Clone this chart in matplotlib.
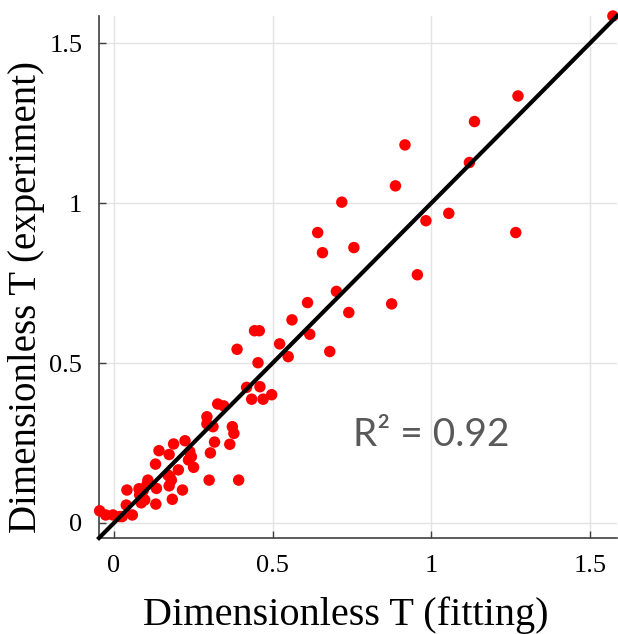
import numpy as np
import matplotlib
matplotlib.use("Agg")
import matplotlib.pyplot as plt

t_fit = [1.572, 1.273, 1.136, 0.917, 1.120, 0.887, 0.718, 1.055, 0.983, 0.642,
         1.266, 0.657, 0.756, 0.956, 0.701, 0.610, 0.875, 0.740, 0.561, 0.443,
         0.458, 0.617, 0.522, 0.388, 0.680, 0.549, 0.454, 0.418, 0.460, 0.434,
         0.470, 0.497, 0.327, 0.346, 0.293, 0.293, 0.312, 0.373, 0.378, 0.224,
         0.188, 0.317, 0.365, 0.142, 0.174, 0.239, 0.235, 0.251, 0.304, 0.131,
         0.203, 0.176, 0.181, 0.174, 0.300, 0.393, 0.107, 0.079, 0.092, 0.081,
         0.041, 0.134, 0.216, 0.097, 0.086, 0.132, 0.184, 0.039, 0.058, 0.026,
         0.018, -0.003, -0.026, -0.045, 0.244, 0.170, 0.104]
t_exp = [1.585, 1.335, 1.255, 1.182, 1.127, 1.054, 1.003, 0.968, 0.945, 0.908,
         0.908, 0.845, 0.861, 0.776, 0.724, 0.689, 0.685, 0.658, 0.635, 0.601,
         0.601, 0.590, 0.560, 0.543, 0.536, 0.520, 0.501, 0.424, 0.426, 0.387,
         0.387, 0.401, 0.372, 0.366, 0.332, 0.310, 0.301, 0.301, 0.280, 0.257,
         0.247, 0.253, 0.246, 0.226, 0.214, 0.223, 0.197, 0.174, 0.219, 0.184,
         0.166, 0.145, 0.134, 0.116, 0.134, 0.134, 0.134, 0.107, 0.101, 0.088,
         0.103, 0.108, 0.103, 0.072, 0.063, 0.059, 0.074, 0.056, 0.025, 0.020,
         0.020, 0.025, 0.025, 0.038, 0.207, 0.150, 0.120]

lo, hi = -0.047, 1.585
ticks = [0, 0.5, 1, 1.5]
tick_labels = ["0", "0.5", "1", "1.5"]
r2_text = "R² = 0.92"

fig = plt.figure(figsize=(6.18, 6.34), dpi=100)
ax = fig.add_axes([99 / 618, 1 - 538 / 634, 518 / 618, 522 / 634])

ax.scatter(t_fit, t_exp, s=68, color="#ff0000", edgecolors="none", zorder=3, clip_on=False)
ax.plot([lo, hi], [lo, hi], color="black", lw=3, zorder=4, clip_on=False)

ax.set_xlim(lo, hi)
ax.set_ylim(lo, hi)
ax.set_xticks(ticks)
ax.set_xticklabels(tick_labels)
ax.set_yticks(ticks)
ax.set_yticklabels(tick_labels)
ax.grid(True, color="#e3e3e3", lw=1)
ax.set_axisbelow(True)

for s in ["top", "right"]:
    ax.spines[s].set_visible(False)
for s in ["left", "bottom"]:
    ax.spines[s].set_color("#404040")
    ax.spines[s].set_linewidth(1.2)

ax.tick_params(direction="in", length=5, width=1, color="#404040",
               labelsize=19, pad=12)
for lab in ax.get_xticklabels() + ax.get_yticklabels():
    lab.set_family("Liberation Serif")

ax.set_xlabel("Dimensionless T (fitting)", family="Liberation Serif", fontsize=29)
ax.set_ylabel("Dimensionless T (experiment)", family="Liberation Serif", fontsize=28)
ax.xaxis.set_label_coords(0.477, -0.112)
ax.yaxis.set_label_coords(-0.104, 0.462)

ax.text(0.752, 0.240, r2_text, family="Lato", fontsize=28, color="#595959",
        ha="left", va="baseline")

fig.savefig("out.png", dpi=100)
